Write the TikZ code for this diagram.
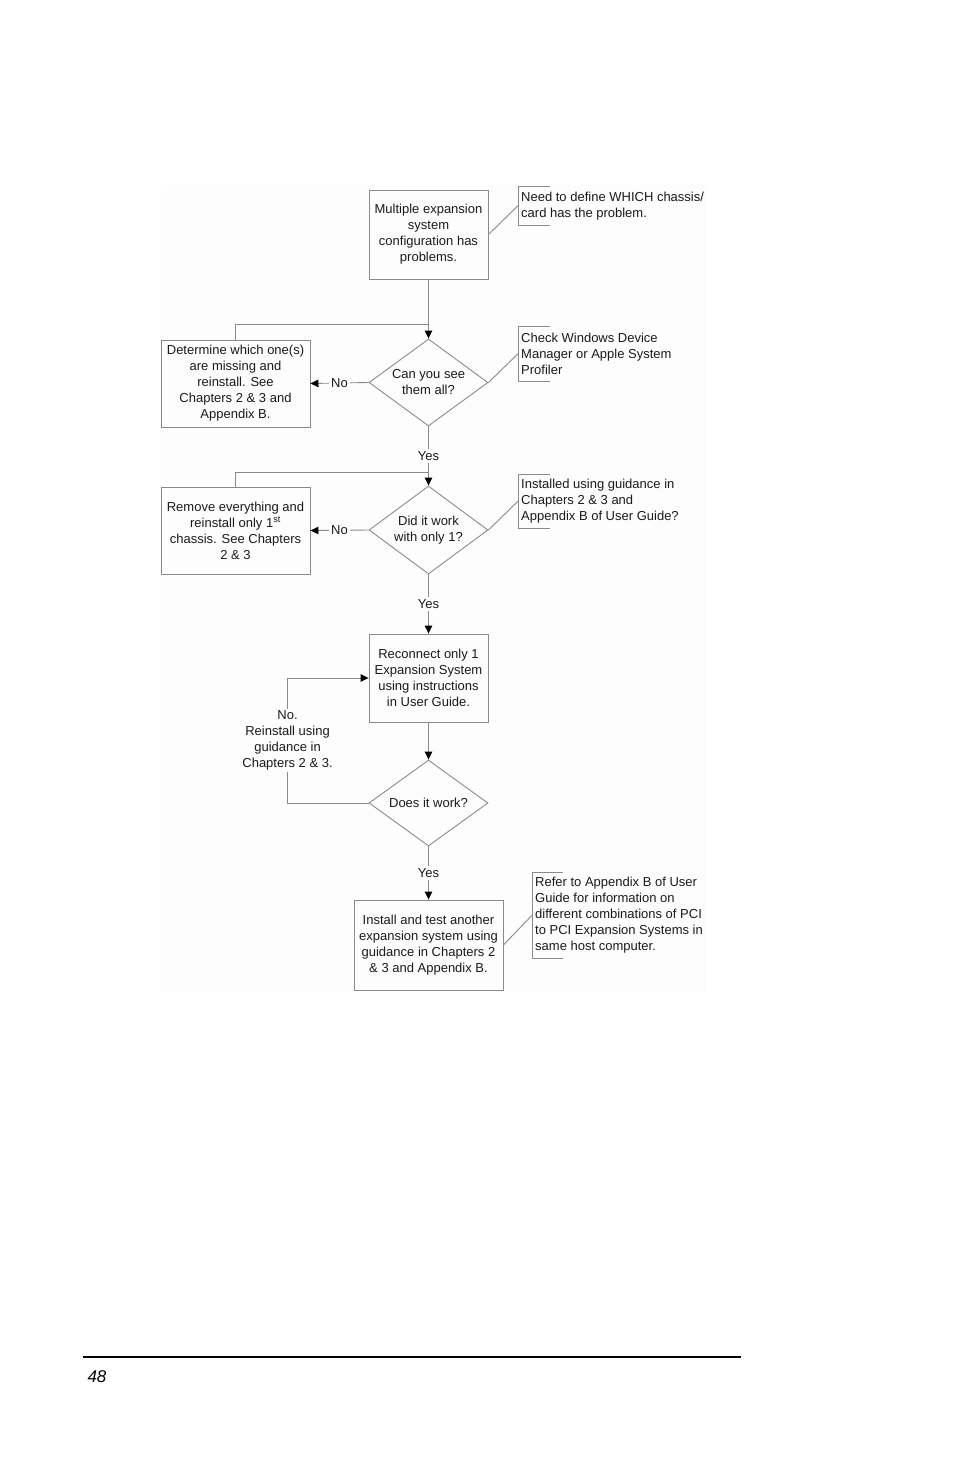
\documentclass[tikz,border=0pt]{standalone}
\usepackage{fontspec}
\setmainfont{Liberation Sans}
\usepackage{tikz}
\usetikzlibrary{positioning,arrows.meta,shapes.geometric}
\definecolor{lineG}{HTML}{8A8A8A}
\definecolor{textG}{HTML}{1A1A1A}
\definecolor{paperF}{HTML}{FDFDFD}

\begin{document}
\begin{tikzpicture}[
    x=1pt,y=-1pt,
    font=\fontsize{13}{16}\selectfont,
    text=textG,
    box/.style={rectangle,draw=lineG,line width=0.9pt,align=center,inner sep=0pt},
    dec/.style={diamond,aspect=1.37,draw=lineG,line width=0.9pt,align=center,
                inner sep=0pt,minimum width=119pt,minimum height=87pt},
    note/.style={align=left,anchor=north west,inner xsep=3pt,inner ysep=0pt,
                 minimum height=#1},
    flow/.style={-{Triangle[length=8pt,width=7.5pt,color=black]},draw=lineG,
                 line width=0.9pt},
    line/.style={draw=lineG,line width=0.9pt},
    lbl/.style={fill=paperF,inner sep=2pt,align=center},
]
\useasboundingbox (0,0) rectangle (954,1475);
\fill[paperF] (161,185) rectangle (706,992);

% =====================================================================
%  main column
% =====================================================================
\node[box,minimum width=119pt,minimum height=89pt] (b1) at (428.5,234.5)
     {Multiple expansion\\system\\configuration has\\problems.};
\node[dec] (d1) at (428.5,382.5) {Can you see\\them all?};
\node[dec,minimum height=88pt] (d2) at (428.5,530) {Did it work\\with only 1?};
\node[box,minimum width=119pt,minimum height=88pt] (b3) at (428.5,678)
     {Reconnect only 1\\Expansion System\\using instructions\\in User Guide.};
\node[dec,minimum height=86pt] (d3) at (428.5,803) {Does it work?};
\node[box,minimum width=149pt,minimum height=90pt] (b4) at (428.5,945)
     {Install and test another\\expansion system using\\guidance in Chapters 2\\\& 3 and Appendix B.};

% "No" branches on the left
\node[box,minimum width=149pt,minimum height=87pt] (l1) at (235.5,383.5)
     {Determine which one(s)\\are missing and\\reinstall. See\\Chapters 2 \& 3 and\\Appendix B.};
\node[box,minimum width=149pt,minimum height=87pt] (l2) at (235.5,530.5)
     {Remove everything and\\reinstall only 1\textsuperscript{st}\\chassis. See Chapters\\2 \& 3};

% where the retry lines join the column
\coordinate (j1) at (428.5,324);
\coordinate (j2) at (428.5,472);

% =====================================================================
%  side notes (open brackets)
% =====================================================================
\node[note=39pt] (n1) at (518,186) {Need to define WHICH chassis/\\card has the problem.};
\node[note=55pt] (n2) at (518,326) {Check Windows Device\\Manager or Apple System\\Profiler};
\node[note=54pt] (n3) at (518,474) {Installed using guidance in\\Chapters 2 \& 3 and\\Appendix B of User Guide?};
\node[note=86pt] (n4) at (532,872) {Refer to Appendix B of User\\Guide for information on\\different combinations of PCI\\to PCI Expansion Systems in\\same host computer.};

\foreach \n/\w in {n1/32,n2/32,n3/32,n4/31}
   \draw[line] ([xshift=\w pt]\n.north west) -- (\n.north west)
               -- (\n.south west) -- ([xshift=\w pt]\n.south west);
\foreach \a/\b in {b1/n1,d1/n2,d2/n3,b4/n4} \draw[line] (\a.east) -- (\b.west);

% =====================================================================
%  connectors
% =====================================================================
\draw[flow] (b1.south) -- (d1.north);
\draw[line] (l1.north) |- (j1);
\draw[flow] (d1.west) -- node[lbl] {No} (l1.east);
\draw[flow] (d1.south) -- node[lbl] {Yes} (d2.north);
\draw[line] (l2.north) |- (j2);
\draw[flow] (d2.west) -- node[lbl] {No} (l2.east);
\draw[flow] (d2.south) -- node[lbl] {Yes} (b3.north);
\draw[flow] (b3.south) -- (d3.north);
\draw[flow] (d3.west) -- ++(-81,0) |- node[lbl,pos=0.25]
     {No.\\Reinstall using\\guidance in\\Chapters 2 \& 3.} (b3.west);
\draw[flow] (d3.south) -- node[lbl] {Yes} (b4.north);

% =====================================================================
%  page footer
% =====================================================================
\draw[line width=2pt,black] (83,1357) -- (741,1357);
\node[font=\fontsize{17}{20}\selectfont\itshape,text=black,anchor=west] (pg)
     at (84,1377) {48};

\end{tikzpicture}
\end{document}
